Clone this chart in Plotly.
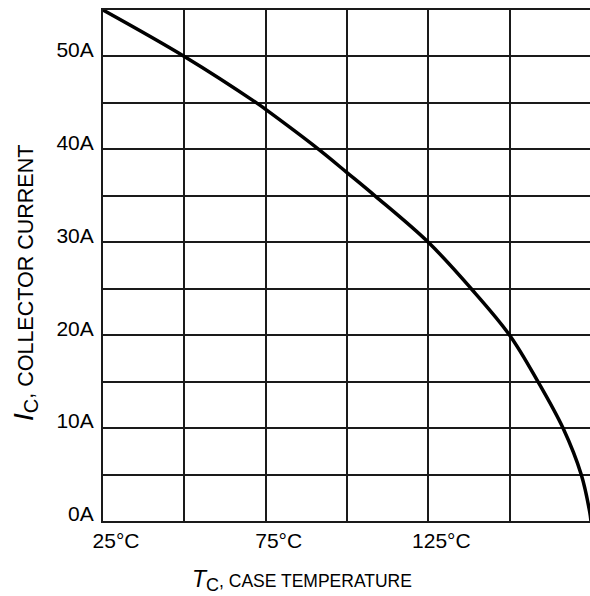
import plotly.graph_objects as go

# Data
case_temp_c = [25, 50, 72.2, 75, 91.3, 100, 108.6, 125, 138.2, 150, 158.7, 166.4, 172, 174.6, 175]
collector_current_a = [55, 50, 45, 44.3, 40, 37.5, 35, 30, 25, 20, 15, 10, 5, 1, 0]

x_tick_vals = [25, 50, 75, 100, 125, 150, 175]
x_tick_text = ["25°C", "", "75°C", "", "125°C", "", ""]
y_tick_vals = [0, 5, 10, 15, 20, 25, 30, 35, 40, 45, 50, 55]
y_tick_text = ["0A", "", "10A", "", "20A", "", "30A", "", "40A", "", "50A", ""]

FONT = "Liberation Sans, Arial, sans-serif"

fig = go.Figure()
fig.add_trace(go.Scatter(
    x=case_temp_c, y=collector_current_a, mode="lines",
    line=dict(color="black", width=3.5, shape="spline", smoothing=1.0),
    hoverinfo="skip", showlegend=False,
))

fig.update_layout(
    width=590, height=596,
    margin=dict(l=103, r=0, t=10, b=75),
    paper_bgcolor="white", plot_bgcolor="white",
    font=dict(family=FONT, color="black"),
    xaxis=dict(
        range=[25, 174.7], tickvals=x_tick_vals, ticktext=x_tick_text,
        showgrid=True, gridcolor="#1a1a1a", gridwidth=2,
        showline=True, linecolor="#1a1a1a", linewidth=2, mirror=True,
        zeroline=False, ticks="", tickfont=dict(size=21, family=FONT),
        ticklabelshift=13,
    ),
    yaxis=dict(
        range=[0, 55], tickvals=y_tick_vals, ticktext=y_tick_text,
        showgrid=True, gridcolor="#1a1a1a", gridwidth=2,
        showline=True, linecolor="#1a1a1a", linewidth=2, mirror=False,
        zeroline=False, ticks="", tickfont=dict(size=21, family=FONT),
        ticklabelshift=-7, ticklabelstandoff=3,
    ),
    annotations=[
        dict(
            text="<span style='font-size:23px'><i>T</i></span><sub><span style='font-size:18px'>C</span></sub>, CASE TEMPERATURE",
            xref="paper", yref="paper", x=(302 - 103) / 487, y=-(580 - 521) / 511,
            xanchor="center", yanchor="middle", showarrow=False,
            font=dict(size=17.5, family=FONT, color="black"),
        ),
        dict(
            text="<span style='font-size:28px'><i>I</i></span><sub><span style='font-size:20px'>C</span></sub>, COLLECTOR CURRENT",
            xref="paper", yref="paper", x=-(103 - 25) / 487, y=(521 - 283) / 511,
            xanchor="center", yanchor="middle", showarrow=False, textangle=-90,
            font=dict(size=21.5, family=FONT, color="black"),
        ),
    ],
)

fig.write_html(
    "out.html",
    config={"displayModeBar": False, "staticPlot": True},
    post_script="document.body.style.margin='0';document.body.style.overflow='hidden';",
)
